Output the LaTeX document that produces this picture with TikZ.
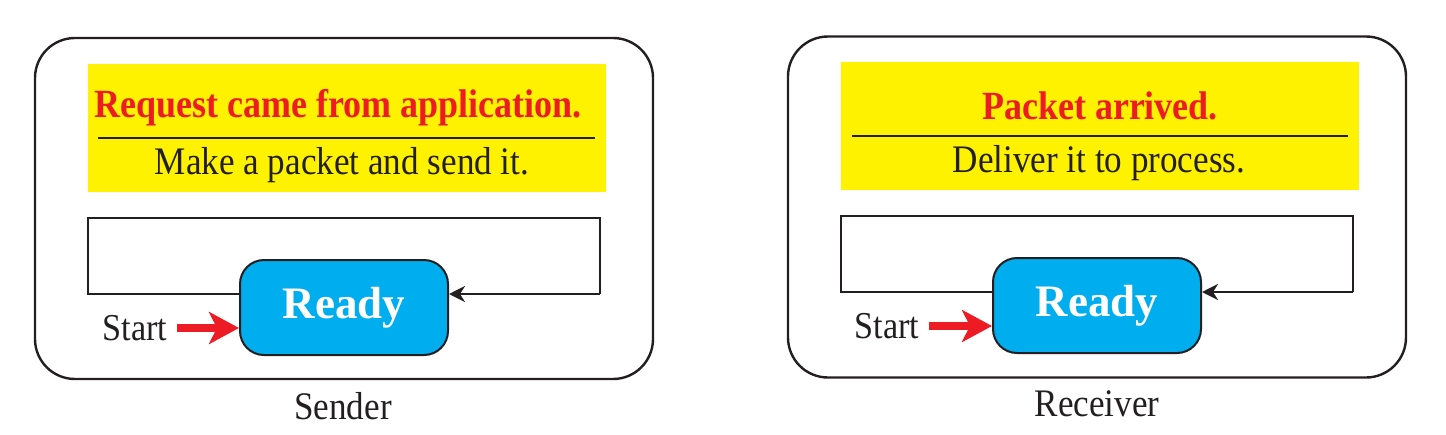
\documentclass[tikz,border=0pt]{standalone}
\usepackage{fontspec}
\setmainfont{Liberation Serif}
\newfontfamily\narrowserif{Liberation Serif}[FakeStretch=0.9]
\usetikzlibrary{arrows.meta,calc}
\definecolor{ink}{HTML}{231F20}
\definecolor{noteyellow}{HTML}{FFF200}
\definecolor{evtred}{HTML}{ED1C24}
\definecolor{statecyan}{HTML}{00AEEF}
\tikzset{
  outerbox/.style={draw=ink, line width=1.2pt, rounded corners=20pt, minimum width=309pt, minimum height=170.5pt, inner sep=0pt},
  notebox/.style={fill=noteyellow, draw=none, minimum width=259pt, minimum height=64pt, inner sep=0pt},
  evt/.style={text=evtred, font=\narrowserif\fontsize{20}{22}\selectfont\bfseries, inner sep=0pt},
  act/.style={text=ink, font=\narrowserif\fontsize{19.5}{22}\selectfont, inner sep=0pt},
  sepline/.style={draw=ink, line width=1.3pt},
  loopline/.style={draw=ink, line width=1.4pt},
  statebox/.style={draw=ink, line width=1pt, fill=statecyan, rounded corners=12pt, minimum width=104pt, minimum height=47.5pt, inner sep=0pt, text=white, font=\fontsize{22.5}{24}\selectfont\bfseries},
  startarrow/.style={draw=evtred, line width=4pt, -{Stealth[length=15pt,width=16pt,inset=4pt]}},
  looparrow/.style={loopline, -{Stealth[length=8pt,width=8pt,inset=2.5pt]}},
  lbl/.style={text=ink, font=\narrowserif\fontsize{19.5}{22}\selectfont, inner sep=3pt},
  startlbl/.style={lbl, font=\narrowserif\fontsize{19}{22}\selectfont},
}
\begin{document}
\begin{tikzpicture}[x=0.5pt,y=-0.5pt]
\useasboundingbox (0,0) rectangle (1446,434);
% ---------- Sender ----------
\node[outerbox] (sOuter) at (344,208.5) {};
\node[notebox] (sNote) at (347,128) {};
\node[evt] (sEvt) at (338,108) {Request came from application.};
\node[act] (sAct) at (342,165) {Make a packet and send it.};
\coordinate (sSepL) at (98,138);
\coordinate (sSepR) at (595,138);
\draw[sepline] (sSepL) -- (sSepR);
\node[statebox] (sReady) at (344,307.5) {Ready};
\coordinate (sLB) at (88,294);
\coordinate (sLT) at (88,218);
\coordinate (sRT) at (600,218);
\coordinate (sRB) at (600,294);
\draw[loopline] (sReady.west |- sLB) -- (sLB) -- (sLT) -- (sRT) -- (sRB);
\draw[looparrow] (sRB) -- (sReady.east |- sRB);
\node[startlbl] (sStart) at (135,328) {Start};
\draw[startarrow] ($(sStart.east)+(3,0)$) -- (sStart.east -| sReady.west);
\node[lbl] (sName) at (343,406) {Sender};
% ---------- Receiver ----------
\node[outerbox] (rOuter) at (1097,207) {};
\node[notebox] (rNote) at (1100,126) {};
\node[evt] (rEvt) at (1100,106) {Packet arrived.};
\node[act] (rAct) at (1099,163) {Deliver it to process.};
\coordinate (rSepL) at (852,136);
\coordinate (rSepR) at (1348,136);
\draw[sepline] (rSepL) -- (rSepR);
\node[statebox] (rReady) at (1097,305.5) {Ready};
\coordinate (rLB) at (841,292);
\coordinate (rLT) at (841,216);
\coordinate (rRT) at (1353,216);
\coordinate (rRB) at (1353,292);
\draw[loopline] (rReady.west |- rLB) -- (rLB) -- (rLT) -- (rRT) -- (rRB);
\draw[looparrow] (rRB) -- (rReady.east |- rRB);
\node[startlbl] (rStart) at (887,326) {Start};
\draw[startarrow] ($(rStart.east)+(3,0)$) -- (rStart.east -| rReady.west);
\node[lbl] (rName) at (1097,404) {Receiver};
\end{tikzpicture}
\end{document}
